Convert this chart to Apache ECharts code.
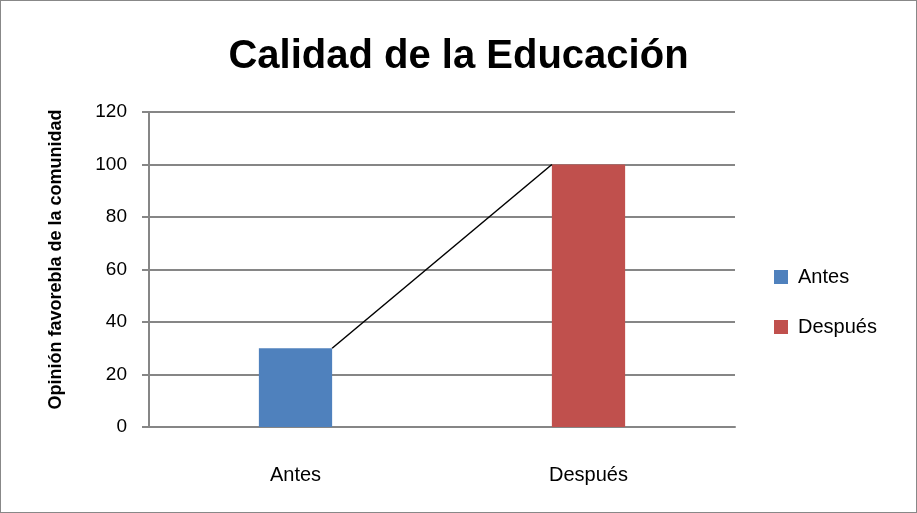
<!DOCTYPE html>
<html>
<head>
<meta charset="utf-8">
<script src="https://cdn.jsdelivr.net/npm/echarts@6/dist/echarts.min.js"></script>
<style>
html, body { margin: 0; padding: 0; background: #fff; }
#chart { width: 915px; height: 511px; border: 1px solid #888; }
</style>
</head>
<body>
<div id="chart"></div>
<script>
// datos del gráfico
var categorias = ['Antes', 'Después'];
var valoresAntes = [30, '-'];
var valoresDespues = ['-', 100];
var lineaSerie = [30, 100]; // altura total de cada columna
var ticksY = [0, 20, 40, 60, 80, 100, 120];

var fuente = 'Liberation Sans, sans-serif';
var anchoBarra = 0.25;

var chart = echarts.init(document.getElementById('chart'));
var option = {
    animation: false,
    title: {
        text: 'Calidad de la Educación',
        left: 'center',
        top: 31,
        textStyle: { fontFamily: fuente, fontWeight: 'bold', fontSize: 40, color: '#000' }
    },
    legend: {
        orient: 'vertical',
        left: 773,
        top: 266,
        padding: 0,
        itemWidth: 14,
        itemHeight: 14,
        itemGap: 30,
        icon: 'rect',
        data: ['Antes', 'Después'],
        textStyle: { fontFamily: fuente, fontSize: 20, color: '#000', padding: [0, 0, 0, 5] }
    },
    grid: { left: 148, right: 181, top: 111, bottom: 85 },
    xAxis: {
        type: 'category',
        data: categorias,
        axisLine: { lineStyle: { color: '#868686', width: 2 } },
        axisTick: { show: false },
        axisLabel: { fontFamily: fuente, fontSize: 20, color: '#000', margin: 38 }
    },
    yAxis: {
        type: 'value',
        min: ticksY[0],
        max: ticksY[ticksY.length - 1],
        interval: 20,
        name: 'Opinión favorebla de la comunidad',
        nameLocation: 'middle',
        nameGap: 84,
        nameTextStyle: { fontFamily: fuente, fontWeight: 'bold', fontSize: 18, color: '#000', padding: [0, 0, 0, 20] },
        axisLine: { show: true, lineStyle: { color: '#868686', width: 2 } },
        axisTick: { show: true, length: 7, lineStyle: { color: '#868686', width: 2 } },
        axisLabel: { fontFamily: fuente, fontSize: 19, color: '#000', margin: 22 },
        splitLine: { lineStyle: { color: '#868686', width: 2 } }
    },
    series: [
        {
            name: 'Antes',
            type: 'bar',
            stack: 'total',
            barWidth: (anchoBarra * 100) + '%',
            data: valoresAntes,
            itemStyle: { color: '#4F81BD' }
        },
        {
            name: 'Después',
            type: 'bar',
            stack: 'total',
            barWidth: (anchoBarra * 100) + '%',
            data: valoresDespues,
            itemStyle: { color: '#C0504D' }
        },
        {
            // línea de serie entre columnas
            type: 'custom',
            silent: true,
            z: 5,
            data: [0],
            renderItem: function (params, api) {
                var banda = api.size([1, 0])[0];
                var medio = banda * anchoBarra / 2;
                var p1 = api.coord([0, lineaSerie[0]]);
                var p2 = api.coord([1, lineaSerie[1]]);
                return {
                    type: 'line',
                    shape: { x1: p1[0] + medio, y1: p1[1], x2: p2[0] - medio, y2: p2[1] },
                    style: { stroke: '#000', lineWidth: 1.5 }
                };
            }
        }
    ]
};
chart.setOption(option);
</script>
</body>
</html>
